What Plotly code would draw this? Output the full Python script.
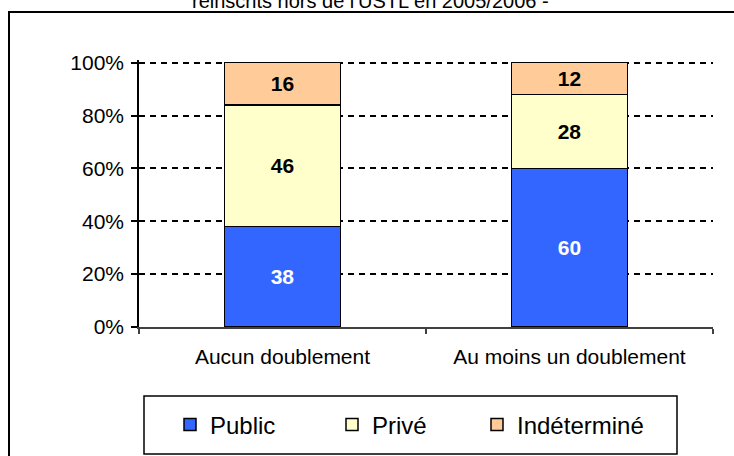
import plotly.graph_objects as go

categories = ["Aucun doublement", "Au moins un doublement"]
public = [38, 60]
prive = [46, 28]
indetermine = [16, 12]
y_ticks = [0, 20, 40, 60, 80, 100]
y_tick_labels = ["0%", "20%", "40%", "60%", "80%", "100%"]
title_text = "réinscrits hors de l'USTL en 2005/2006 -"

FONT = "Liberation Sans, Arial, sans-serif"

YMAX = 101
L, R, T, B = 139, 21, 60, 129
W, H = 734, 456
pw, ph = W - L - R, H - T - B

def px(x):
    return (x - L) / pw

def py(y):
    return (H - B - y) / ph

series = [
    ("Public", public, "#3366FF", "white", "legend", 170),
    ("Privé", prive, "#FFFFCC", "black", "legend2", 332),
    ("Indéterminé", indetermine, "#FFCC99", "black", "legend3", 477),
]

fig = go.Figure()
legends = {}
for name, vals, color, tcolor, lg, lx in series:
    fig.add_trace(go.Bar(
        x=categories, y=vals, name=name, legend=lg,
        marker=dict(color=color, line=dict(color="black", width=1.5)),
        text=[str(v) for v in vals], texttemplate="%{text}",
        textposition="inside", insidetextanchor="middle", textangle=0,
        textfont=dict(family=FONT, size=21, color=tcolor, weight="bold"),
    ))
    legends[lg] = dict(
        orientation="h", x=px(lx), xanchor="left", y=py(425), yanchor="middle",
        font=dict(family=FONT, size=24, color="black"),
        borderwidth=0, bgcolor="rgba(0,0,0,0)",
    )

fig.update_layout(
    width=W, height=H, autosize=False,
    margin=dict(l=L, r=R, t=T, b=B, pad=0, autoexpand=False),
    barmode="stack", bargap=0.595,
    plot_bgcolor="white", paper_bgcolor="white",
    font=dict(family=FONT, size=21, color="black"),
    showlegend=True,
    **legends,
    xaxis=dict(
        type="category", showline=True, linecolor="#404040", linewidth=1.5,
        ticks="outside", tickson="boundaries", ticklen=5, tickwidth=1.5, tickcolor="#404040",
        showgrid=False, tickfont=dict(size=21), ticklabelstandoff=10,
    ),
    yaxis=dict(
        range=[0, YMAX], tickvals=y_ticks, ticktext=y_tick_labels,
        showline=True, linecolor="black", linewidth=1.5,
        ticks="outside", ticklen=6, tickwidth=1.5, tickcolor="black",
        showgrid=True, gridcolor="black", gridwidth=1.5, griddash="6px,5px",
        zeroline=False, tickfont=dict(size=21), ticklabelstandoff=3,
    ),
    annotations=[dict(
        text=title_text, xref="paper", yref="paper", x=px(370), y=py(14),
        xanchor="center", yanchor="bottom", showarrow=False,
        font=dict(family=FONT, size=20, color="black"),
    )],
    shapes=[
        dict(type="rect", xref="paper", yref="paper",
             x0=px(9), x1=px(745), y0=py(470), y1=py(12),
             line=dict(color="black", width=2), layer="below"),
        dict(type="rect", xref="paper", yref="paper",
             x0=px(144), x1=px(677), y0=py(454), y1=py(396),
             line=dict(color="black", width=1.5)),
    ],
)

fig.write_html(
    "out.html",
    config={"displayModeBar": False},
    post_script="document.body.style.margin='0';document.body.style.overflow='hidden';",
)
